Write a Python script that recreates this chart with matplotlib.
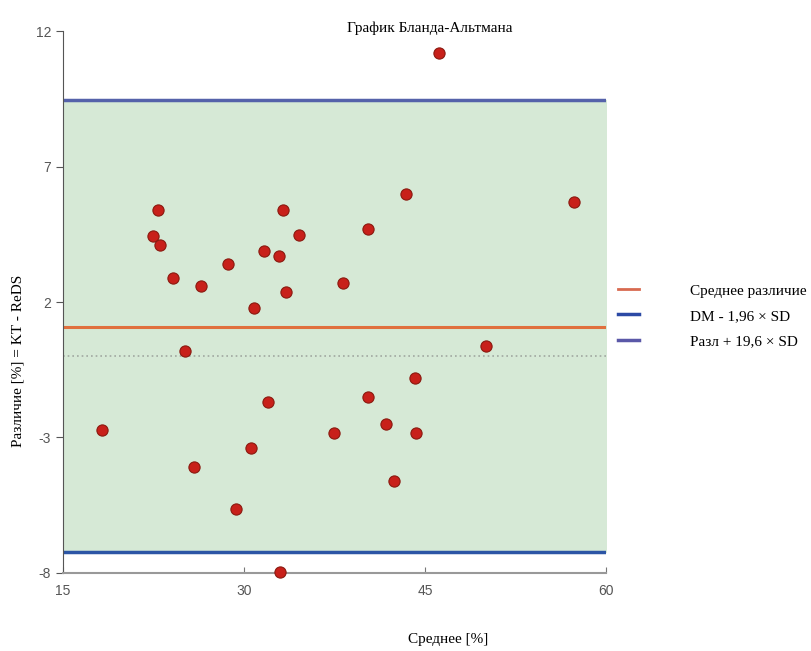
import matplotlib.pyplot as plt
from matplotlib.lines import Line2D

plt.rcParams['axes.unicode_minus'] = False

# mean of the two methods (x) and difference KT - ReDS (y)
srednee = [46.2, 57.4, 43.4, 22.9, 33.2, 40.3, 22.5, 23.0, 34.6, 31.7,
           32.9, 28.7, 24.1, 26.4, 38.2, 33.5, 30.8, 25.1, 50.1, 44.2,
           40.3, 32.0, 18.2, 37.5, 41.8, 44.3, 30.6, 25.9, 42.4, 29.3, 33.0]
razlichie = [11.19, 5.69, 5.99, 5.39, 5.39, 4.69, 4.44, 4.10, 4.47, 3.88,
             3.70, 3.40, 2.89, 2.59, 2.70, 2.37, 1.78, 0.19, 0.38, -0.80,
             -1.51, -1.69, -2.72, -2.83, -2.50, -2.83, -3.39, -4.09, -4.61, -5.64, -7.96]

mean_diff = 1.08
upper_loa = 9.45
lower_loa = -7.22

x_ticks = [15, 30, 45, 60]
y_ticks = [-8, -3, 2, 7, 12]

legend_labels = ['Среднее различие', 'DM - 1,96 × SD', 'Разл + 19,6 × SD']

serif = ['Liberation Serif', 'DejaVu Serif']

fig = plt.figure(figsize=(8.11, 6.51), dpi=100)
ax = fig.add_axes([0.0777, 0.12, 0.6693, 0.832])

ax.set_xlim(15, 60)
ax.set_ylim(-8, 12)

# zone between limits of agreement
ax.fill_between([15, 60], lower_loa, upper_loa, color='#d6e9d6', zorder=0)
ax.axhline(upper_loa, color='#5562aa', lw=2.5, zorder=2)
ax.axhline(lower_loa, color='#2c55a5', lw=2.5, zorder=2)
ax.axhline(mean_diff, color='#e0703e', lw=2.2, zorder=2)
ax.axhline(0, color='#a0a8a0', lw=1.2, ls=(0, (1, 1.8)), zorder=2)

ax.scatter(srednee, razlichie, s=65, c='#c8201a', edgecolors='#8a1a10',
           linewidths=0.8, zorder=3, clip_on=False)

ax.set_xticks(x_ticks)
ax.set_yticks(y_ticks)
for s in ['top', 'right']:
    ax.spines[s].set_visible(False)
ax.spines['left'].set_color('#555555')
ax.spines['bottom'].set_color('#999999')
ax.spines['bottom'].set_linewidth(1.5)
ax.tick_params(axis='y', direction='out', length=5, colors='#555555', labelsize=10)
ax.tick_params(axis='x', direction='in', length=4, colors='#777777', labelsize=10,
               pad=8, labelcolor='#555555')
for lab in ax.get_xticklabels() + ax.get_yticklabels():
    lab.set_family(['Liberation Sans', 'DejaVu Sans'])

fig.text(0.53, 0.957, 'График Бланда-Альтмана', family=serif, fontsize=11,
         ha='center', va='center')
fig.text(0.552, 0.018, 'Среднее [%]', family=serif, fontsize=11,
         ha='center', va='center')
fig.text(0.022, 0.445, 'Различие [%] = KT - ReDS', family=serif, fontsize=11,
         rotation=90, ha='center', va='center')

handles = [Line2D([], [], color='#d86a50', lw=2),
           Line2D([], [], color='#2c4aa5', lw=2.5),
           Line2D([], [], color='#5a58a8', lw=2.5)]
fig.legend(handles, legend_labels, loc='upper left', bbox_to_anchor=(0.745, 0.585),
           frameon=False, handlelength=1.4, handletextpad=3.3, labelspacing=0.75,
           prop={'family': serif, 'size': 11})

fig.savefig('out.png', dpi=100)
